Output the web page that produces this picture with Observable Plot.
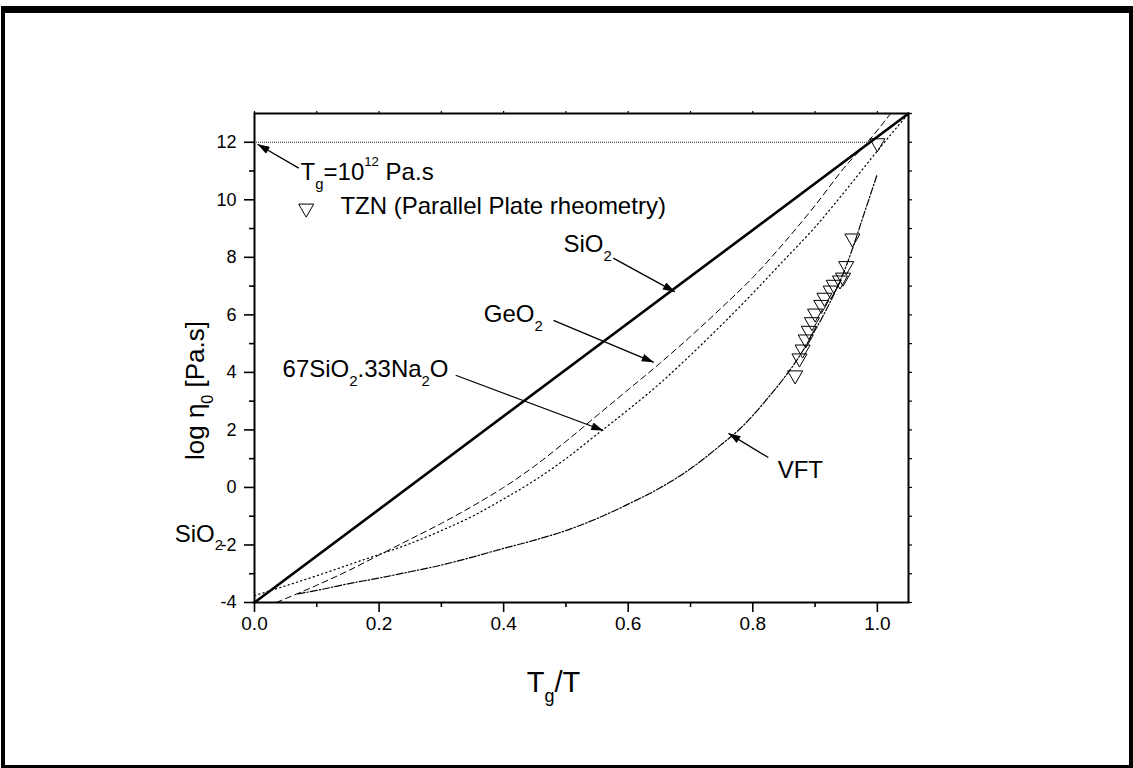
<!DOCTYPE html>
<html>
<head>
<meta charset="utf-8">
<script src="https://cdn.jsdelivr.net/npm/d3@7"></script>
<script src="https://cdn.jsdelivr.net/npm/@observablehq/plot@0.6"></script>
<style>
  html, body { margin: 0; padding: 0; background: #fff; }
  #wrap { position: relative; width: 1133px; height: 768px; overflow: hidden; }
  #wrap svg { display: block; }
  #border { position: absolute; left: 1px; top: 6px; width: 1132px; height: 762px; box-sizing: border-box;
            border-top: 7px solid #000; border-left: 4px solid #000; border-right: 4px solid #000; border-bottom: 3px solid #000; pointer-events: none; }
</style>
</head>
<body>
<div id="wrap"><div id="border"></div></div>
<script>
// ---- data ----
const sio2X = [0, 1.05];
const sio2Y = [-4, 13];

const geo2X = [0.035, 0.10, 0.15, 0.20, 0.25, 0.30, 0.35, 0.40, 0.45, 0.50, 0.55, 0.60, 0.65, 0.70, 0.75, 0.80, 0.85, 0.90, 0.95, 0.984, 1.02];
const geo2Y = [-4.0, -3.4, -2.9, -2.35, -1.8, -1.25, -0.65, 0.0, 0.75, 1.6, 2.5, 3.4, 4.3, 5.25, 6.25, 7.3, 8.5, 9.8, 11.2, 12.0, 12.96];

const naX = [0.0, 0.05, 0.10, 0.15, 0.20, 0.25, 0.30, 0.35, 0.40, 0.45, 0.50, 0.55, 0.60, 0.65, 0.70, 0.75, 0.80, 0.85, 0.90, 0.95, 1.00, 1.05];
const naY = [-3.76, -3.42, -3.07, -2.7, -2.33, -1.95, -1.5, -1.0, -0.4, 0.25, 1.0, 1.85, 2.7, 3.6, 4.6, 5.65, 6.75, 7.9, 9.05, 10.35, 11.7, 13.0];

const vftX = [0.07, 0.10, 0.15, 0.20, 0.25, 0.30, 0.35, 0.40, 0.45, 0.50, 0.55, 0.60, 0.65, 0.70, 0.75, 0.78, 0.80, 0.82, 0.85, 0.87, 0.89, 0.91, 0.93, 0.95, 0.96, 0.98, 1.00];
const vftY = [-3.7, -3.58, -3.35, -3.15, -2.93, -2.7, -2.42, -2.12, -1.83, -1.5, -1.08, -0.58, -0.03, 0.65, 1.5, 2.05, 2.5, 3.0, 3.8, 4.4, 5.1, 5.85, 6.7, 7.7, 8.3, 9.6, 10.9];

const tznX = [0.868, 0.875, 0.88, 0.885, 0.89, 0.895, 0.90, 0.91, 0.915, 0.925, 0.93, 0.94, 0.945, 0.95, 0.96, 1.0];
const tznY = [3.9, 4.49, 4.8, 5.15, 5.45, 5.75, 6.05, 6.35, 6.6, 6.85, 7.05, 7.2, 7.3, 7.7, 8.66, 11.97];

const tgLevel = 12;

const yMajorTicks = [-4, -2, 0, 2, 4, 6, 8, 10, 12];
const yMinorTicks = [-3, -1, 1, 3, 5, 7, 9, 11];
const yRightTicks = d3.range(-4, 14, 1);
const xMajorTicks = [0, 0.2, 0.4, 0.6, 0.8, 1.0];
const xMinorTicks = [0.1, 0.3, 0.5, 0.7, 0.9];
const xTopTicks = [0, 0.1, 0.2, 0.3, 0.4, 0.5, 0.6, 0.7, 0.8, 0.9, 1.0];

// annotation labels (text, anchor point in data units)
const labelText = ["T_{g}=10^{12} Pa.s", "TZN (Parallel Plate rheometry)", "SiO_{2}", "GeO_{2}", "67SiO_{2}.33Na_{2}O", "VFT", "SiO_{2}"];
const labelX = [0.074, 0.138, 0.496, 0.368, 0.045, 0.84, -0.128];
const labelY = [10.94, 9.76, 8.45, 6.02, 4.10, 0.59, -1.62];

// annotation arrows (from -> to, data units)
const arrowX1 = [0.071, 0.576, 0.48, 0.323, 0.825];
const arrowY1 = [11.1, 7.97, 5.81, 3.9, 1.04];
const arrowX2 = [0.005, 0.675, 0.641, 0.56, 0.761];
const arrowY2 = [11.93, 6.8, 4.35, 1.98, 1.88];

const legendSymbolX = [0.083];
const legendSymbolY = [9.70];

// ---- tables ----
const zipXY = (xs, ys) => xs.map((x, i) => ({x, y: ys[i]}));
const sio2 = zipXY(sio2X, sio2Y);
const geo2 = zipXY(geo2X, geo2Y);
const na = zipXY(naX, naY);
const vft = zipXY(vftX, vftY);
const tzn = zipXY(tznX, tznY);
const labels = labelText.map((t, i) => ({t, x: labelX[i], y: labelY[i]}));
const arrows = arrowX1.map((x1, i) => ({x1, y1: arrowY1[i], x2: arrowX2[i], y2: arrowY2[i]}));
const legendSym = zipXY(legendSymbolX, legendSymbolY);

const chart = Plot.plot({
  width: 1133,
  height: 768,
  marginLeft: 254,
  marginRight: 225,
  marginTop: 113,
  marginBottom: 166,
  x: {domain: [0, 1.05]},
  y: {domain: [-4, 13]},
  style: {fontFamily: "'Liberation Sans', Arial, sans-serif", background: "white", color: "black"},
  marks: [
    Plot.ruleY([tgLevel], {x1: 0, x2: 0.99, stroke: "#222", strokeWidth: 1, strokeDasharray: "1,1"}),
    Plot.line(sio2, {x: "x", y: "y", stroke: "black", strokeWidth: 2.6}),
    Plot.line(geo2, {x: "x", y: "y", stroke: "black", strokeWidth: 1, strokeDasharray: "6,4", curve: "monotone-x"}),
    Plot.line(na, {x: "x", y: "y", stroke: "black", strokeWidth: 1.2, strokeDasharray: "1.2,3.2", curve: "monotone-x"}),
    Plot.line(vft, {x: "x", y: "y", stroke: "black", strokeWidth: 1.2, strokeDasharray: "7,2,1.5,2", curve: "monotone-x"}),
    Plot.dot(tzn, {x: "x", y: "y", symbol: "triangle", rotate: 180, r: 5.6, stroke: "black", strokeWidth: 1, fill: "none"}),
    Plot.dot(legendSym, {x: "x", y: "y", symbol: "triangle", rotate: 180, r: 5.6, stroke: "black", strokeWidth: 1, fill: "none"}),
    Plot.link(arrows, {x1: "x1", y1: "y1", x2: "x2", y2: "y2", stroke: "black", strokeWidth: 1.3}),
    Plot.text(labels, {x: "x", y: "y", text: "t", textAnchor: "start", fontSize: 24, fill: "black"}),
    Plot.text(["log η_{0} [Pa.s]"], {x: -0.095, y: 3.37, text: d => d, rotate: -90, fontSize: 26, fill: "black"}),
    Plot.text(["T_{g}/T"], {x: 0.48, y: -6.78, text: d => d, fontSize: 29, fill: "black"}),
    Plot.frame({stroke: "black", strokeWidth: 2}),
    Plot.axisY(yMajorTicks, {tickSize: 10, tickPadding: 8, fontSize: 18, strokeWidth: 1.6, tickFormat: d => String(d), label: null}),
    Plot.axisY(yMinorTicks, {tickSize: 5, strokeWidth: 1.6, text: null, label: null}),
    Plot.axisY(yRightTicks, {anchor: "right", tickSize: 3, strokeWidth: 1.2, text: null, label: null}),
    Plot.axisX(xMajorTicks, {tickSize: 10, tickPadding: 4, fontSize: 19, strokeWidth: 1.6, tickFormat: d3.format(".1f"), label: null}),
    Plot.axisX(xMinorTicks, {tickSize: 5, strokeWidth: 1.6, text: null, label: null}),
    Plot.axisX(xTopTicks, {anchor: "top", tickSize: 3, strokeWidth: 1.2, text: null, label: null})
  ]
});

document.getElementById("wrap").insertBefore(chart, document.getElementById("border"));

// filled arrowheads on the annotation links
const NS = "http://www.w3.org/2000/svg";
const defs = document.createElementNS(NS, "defs");
const marker = document.createElementNS(NS, "marker");
marker.setAttribute("id", "ahead");
marker.setAttribute("viewBox", "0 0 12 8");
marker.setAttribute("refX", "12");
marker.setAttribute("refY", "4");
marker.setAttribute("markerWidth", "14");
marker.setAttribute("markerHeight", "8");
marker.setAttribute("markerUnits", "userSpaceOnUse");
marker.setAttribute("orient", "auto");
const mp = document.createElementNS(NS, "path");
mp.setAttribute("d", "M0,0 L12,4 L0,8 Z");
mp.setAttribute("fill", "black");
marker.appendChild(mp);
defs.appendChild(marker);
chart.insertBefore(defs, chart.firstChild);
chart.querySelectorAll('g[aria-label="link"] path, g[aria-label="link"] line').forEach(p => p.setAttribute("marker-end", "url(#ahead)"));

// sub/superscripts
chart.querySelectorAll("text").forEach(t => {
  const s = t.textContent;
  if (!/[_^]\{/.test(s)) return;
  const fs = parseFloat(getComputedStyle(t).fontSize) || 24;
  while (t.firstChild) t.removeChild(t.firstChild);
  const re = /([_^])\{([^}]*)\}|([^_^]+)/g;
  let shift = 0, m;
  while ((m = re.exec(s))) {
    const ts = document.createElementNS(NS, "tspan");
    let target = 0;
    if (m[1] === "_") { target = 0.36 * fs; ts.setAttribute("font-size", 0.62 * fs); ts.textContent = m[2]; }
    else if (m[1] === "^") { target = -0.6 * fs; ts.setAttribute("font-size", 0.55 * fs); ts.textContent = m[2]; }
    else { ts.textContent = m[3]; }
    const dy = target - shift;
    if (dy) ts.setAttribute("dy", dy);
    shift = target;
    t.appendChild(ts);
  }
});
</script>
</body>
</html>
